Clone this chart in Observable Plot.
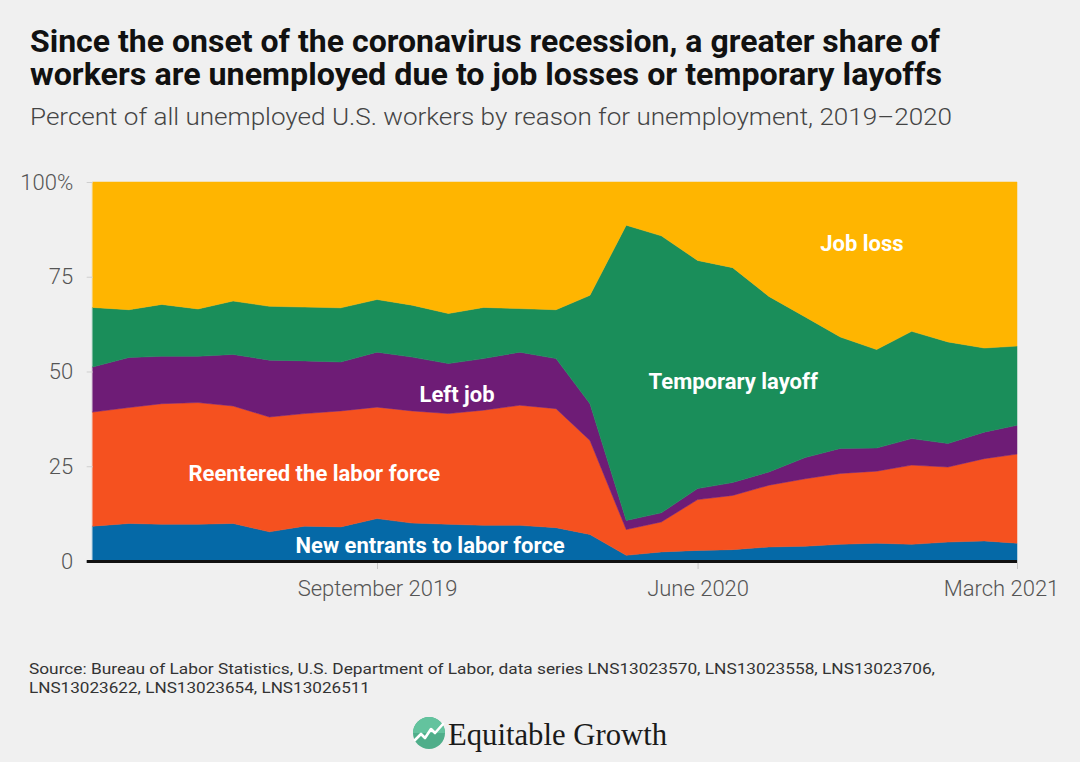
<!DOCTYPE html>
<html>
<head>
<meta charset="utf-8">
<script src="https://cdn.jsdelivr.net/npm/d3@7"></script>
<script src="https://cdn.jsdelivr.net/npm/@observablehq/plot@0.6"></script>
<style>
  html, body { margin: 0; padding: 0; }
  body { width: 1080px; height: 762px; overflow: hidden; position: relative; background: #f0f0f0; font-family: Roboto, "Open Sans", sans-serif; }
  .t { position: absolute; white-space: nowrap; line-height: 1; transform-origin: 0 0; }
  #chart { position: absolute; left: 0; top: 150px; }
  #logo { position: absolute; left: 412px; top: 716px; }
</style>
</head>
<body>
<div class="t fit" data-w="910" style="left:30px;top:25.5px;font-size:31px;font-weight:700;color:#111;">Since the onset of the coronavirus recession, a greater share of</div>
<div class="t fit" data-w="912" style="left:30px;top:59px;font-size:31px;font-weight:700;color:#111;">workers are unemployed due to job losses or temporary layoffs</div>
<div class="t fit" data-w="922" style="left:30px;top:104.5px;font-size:24px;font-weight:300;color:#444;">Percent of all unemployed U.S. workers by reason for unemployment, 2019–2020</div>
<div id="chart"></div>
<div class="t fit" data-w="906" style="left:29px;top:662px;font-size:15.5px;font-weight:400;color:#333;">Source: Bureau of Labor Statistics, U.S. Department of Labor, data series LNS13023570, LNS13023558, LNS13023706,</div>
<div class="t fit" data-w="341" style="left:29px;top:681px;font-size:15.5px;font-weight:400;color:#333;">LNS13023622, LNS13023654, LNS13026511</div>
<svg id="logo" width="36" height="36" viewBox="0 0 36 36">
  <circle cx="17" cy="17" r="16" fill="#4fae8a"/>
  <path d="M1 17 A16 16 0 0 1 33 17 Z" fill="#63c39e"/>
  <polyline points="3,24 9,18 13,22 19,13 23,17 31,8" fill="none" stroke="#fff" stroke-width="2.6" stroke-linejoin="round" stroke-linecap="round"/>
</svg>
<div class="t fit" data-w="219" style="left:448px;top:718px;font-size:32px;font-family:'Liberation Serif','DejaVu Serif',serif;color:#1a1a1a;">Equitable Growth</div>

<script>
// ---- Data (percent of all unemployed, by reason) ----
const months = ["2019-01","2019-02","2019-03","2019-04","2019-05","2019-06","2019-07","2019-08","2019-09","2019-10","2019-11","2019-12",
                "2020-01","2020-02","2020-03","2020-04","2020-05","2020-06","2020-07","2020-08","2020-09","2020-10","2020-11","2020-12",
                "2021-01","2021-02","2021-03"];
const newEntrants     = [9.2, 9.9, 9.7, 9.7, 9.9, 7.7, 9.2, 9.0, 11.2, 10.0, 9.7, 9.4, 9.4, 8.8, 7.0, 1.5, 2.4, 2.8, 3.0, 3.7, 3.9, 4.4, 4.7, 4.4, 5.0, 5.3, 4.7];
const reentered       = [30.1, 30.6, 31.8, 32.1, 31.0, 30.3, 29.7, 30.6, 29.4, 29.6, 29.2, 30.4, 31.7, 31.4, 24.8, 6.8, 7.9, 13.4, 14.3, 16.3, 17.8, 18.7, 19.0, 20.9, 19.8, 21.7, 23.5];
const leftJob         = [11.9, 13.2, 12.5, 12.2, 13.6, 15.0, 13.9, 12.9, 14.5, 14.2, 13.2, 13.6, 14.0, 13.2, 9.7, 2.4, 2.4, 2.9, 3.4, 3.5, 5.6, 6.6, 6.1, 7.0, 6.2, 7.0, 7.6];
const temporaryLayoff = [15.7, 12.6, 13.7, 12.5, 14.1, 14.2, 14.2, 14.3, 13.9, 13.7, 13.2, 13.5, 11.5, 12.9, 28.6, 77.9, 73.1, 60.2, 56.7, 46.3, 37.1, 29.4, 26.0, 28.3, 26.8, 22.2, 20.9];
const jobLoss         = [33.1, 33.7, 32.3, 33.5, 31.4, 32.8, 33.0, 33.2, 31.0, 32.5, 34.7, 33.1, 33.4, 33.7, 29.9, 11.4, 14.2, 20.7, 22.6, 30.2, 35.6, 40.9, 44.2, 39.4, 42.2, 43.8, 43.3];

const seriesNames  = ["New entrants to labor force", "Reentered the labor force", "Left job", "Temporary layoff", "Job loss"];
const seriesValues = [newEntrants, reentered, leftJob, temporaryLayoff, jobLoss];
const seriesColors = ["#0569a7", "#f5511f", "#6e1c76", "#1a8e5a", "#ffb500"];

const yTicks = [0, 25, 50, 75, 100];
const xTickLabels = ["September 2019", "June 2020", "March 2021"];
const xTickDates  = ["2019-09", "2020-06", "2021-03"];

// label anchors (date, percent) for in-chart series labels
const labelNames  = ["Job loss", "Temporary layoff", "Left job", "Reentered the labor force", "New entrants to labor force"];
const labelDates  = ["2020-10-19", "2020-07-01", "2019-11-08", "2019-07-09", "2019-10-16"];
const labelValues = [83.8, 47.4, 44.0, 23.1, 4.1];

const parse = s => new Date(s.length === 7 ? s + "-01T00:00:00Z" : s + "T00:00:00Z");

const tidy = [];
seriesNames.forEach((name, k) => {
  months.forEach((m, i) => tidy.push({date: parse(m), series: name, value: seriesValues[k][i]}));
});
const labels = labelNames.map((t, i) => ({text: t, date: parse(labelDates[i]), value: labelValues[i]}));
const xTicks = xTickDates.map(parse);
const tickName = new Map(xTicks.map((d, i) => [+d, xTickLabels[i]]));

const chart = Plot.plot({
  width: 1080,
  height: 470,
  marginLeft: 92.7,
  marginRight: 63,
  marginTop: 32,
  marginBottom: 59,
  style: {background: "transparent", fontFamily: "Roboto, 'Open Sans', sans-serif", overflow: "visible"},
  x: {type: "utc", domain: [parse(months[0]), parse(months[months.length - 1])]},
  y: {domain: [0, 100]},
  color: {domain: seriesNames, range: seriesColors},
  marks: [
    Plot.areaY(tidy, Plot.stackY({x: "date", y: "value", z: "series", fill: "series", stroke: "series", strokeWidth: 0.5, order: seriesNames})),
    Plot.axisY({ticks: yTicks, tickSize: 6, tickPadding: 14, stroke: "#cfcfcf", fontSize: 22, fontWeight: 300, fill: "#555",
                tickFormat: d => d === 100 ? "100%" : String(d), label: null}),
    Plot.axisX({ticks: xTicks, tickSize: 8, stroke: "#c8c8c8", text: null, label: null}),
    Plot.axisX({ticks: xTicks.slice(0, 2), tickSize: 0, tickPadding: 18.5, fontSize: 22, fontWeight: 300, fill: "#555",
                tickFormat: d => tickName.get(+d), label: null}),
    Plot.axisX({ticks: xTicks.slice(2), tickSize: 0, tickPadding: 18.5, dx: -16, fontSize: 22, fontWeight: 300, fill: "#555",
                tickFormat: d => tickName.get(+d), label: null}),
    Plot.ruleY([0], {stroke: "#111", strokeWidth: 3, insetLeft: -6}),
    Plot.text(labels, {x: "date", y: "value", text: "text", fill: "white", fontSize: 22, fontWeight: 700, className: "serieslabel"})
  ]
});
document.getElementById("chart").appendChild(chart);

// horizontal fit of the condensed-looking typography
document.querySelectorAll(".fit").forEach(el => {
  const w = el.getBoundingClientRect().width;
  const target = +el.dataset.w;
  if (w > 0) el.style.transform = `scaleX(${target / w})`;
});
</script>
</body>
</html>
